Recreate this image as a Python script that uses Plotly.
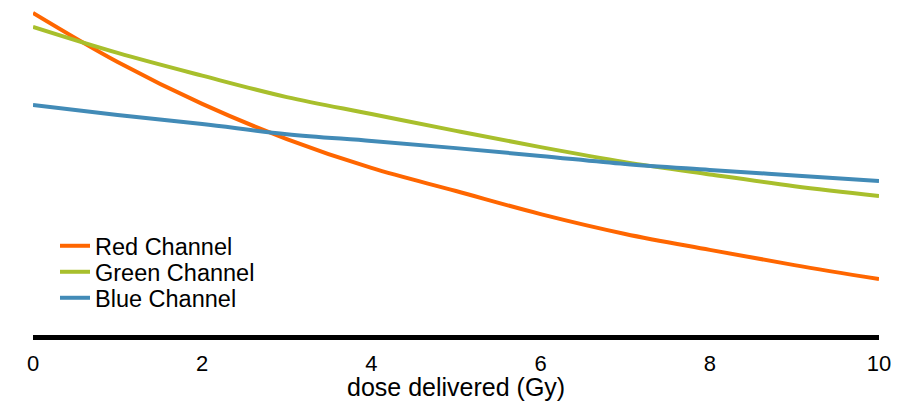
import plotly.graph_objects as go

dose = [0, 1, 2, 3, 4, 5, 6, 7, 8, 9, 10]
red = [99.1, 84.0, 71.1, 60.3, 51.4, 44.3, 37.2, 31.1, 26.2, 21.5, 17.2]
green = [94.8, 86.8, 79.8, 73.2, 68.0, 62.8, 57.8, 53.2, 49.4, 45.8, 42.8]
blue = [70.8, 67.7, 64.9, 61.8, 59.7, 57.5, 55.1, 52.6, 50.8, 49.1, 47.4]
names = ["Red Channel", "Green Channel", "Blue Channel"]
colors = ["#FF6600", "#A8BF2C", "#428BB7"]
tick_vals = [0, 2, 4, 6, 8, 10]
x_title = "dose delivered (Gy)"

FONT = "Arial, 'Liberation Sans', sans-serif"
legend_ids = ["legend", "legend2", "legend3"]
row_px = [246, 272, 298]  # legend row centres (px from top)
PLOT_TOP, PLOT_BOTTOM = 10, 335
PLOT_H = PLOT_BOTTOM - PLOT_TOP

fig = go.Figure()
for name, ys, c, lid in zip(names, [red, green, blue], colors, legend_ids):
    fig.add_trace(go.Scatter(x=dose, y=ys, mode="lines", name=name, legend=lid,
                             line=dict(color=c, width=4, shape="spline", smoothing=1.0)))

legend_layout = {}
for lid, py in zip(legend_ids, row_px):
    legend_layout[lid] = dict(
        x=(55 - 33) / 846, xanchor="left",
        y=(PLOT_BOTTOM - py) / PLOT_H, yanchor="middle",
        font=dict(size=23.5, family=FONT, color="black"),
        bgcolor="rgba(0,0,0,0)", borderwidth=0,
    )

fig.add_annotation(text=x_title, xref="paper", yref="paper", x=0.5,
                   y=(PLOT_BOTTOM - 387) / PLOT_H, xanchor="center", yanchor="middle",
                   showarrow=False, font=dict(size=25, family=FONT, color="black"))

fig.update_layout(
    width=907, height=406,
    margin=dict(l=33, r=28, t=PLOT_TOP, b=406 - PLOT_BOTTOM),
    paper_bgcolor="white", plot_bgcolor="white",
    font=dict(family=FONT, size=22, color="black"),
    showlegend=True,
    xaxis=dict(range=[0, 10], tickvals=tick_vals, ticktext=[str(v) for v in tick_vals],
               showgrid=False, zeroline=False, showline=True, linecolor="black",
               linewidth=5, ticks="", ticklabelstandoff=5,
               tickfont=dict(size=22, family=FONT, color="black")),
    yaxis=dict(range=[0, 100], visible=False, showgrid=False, zeroline=False),
    **legend_layout,
)
fig.write_html("out.html", config={"displayModeBar": False},
               post_script="document.body.style.margin='0';")
